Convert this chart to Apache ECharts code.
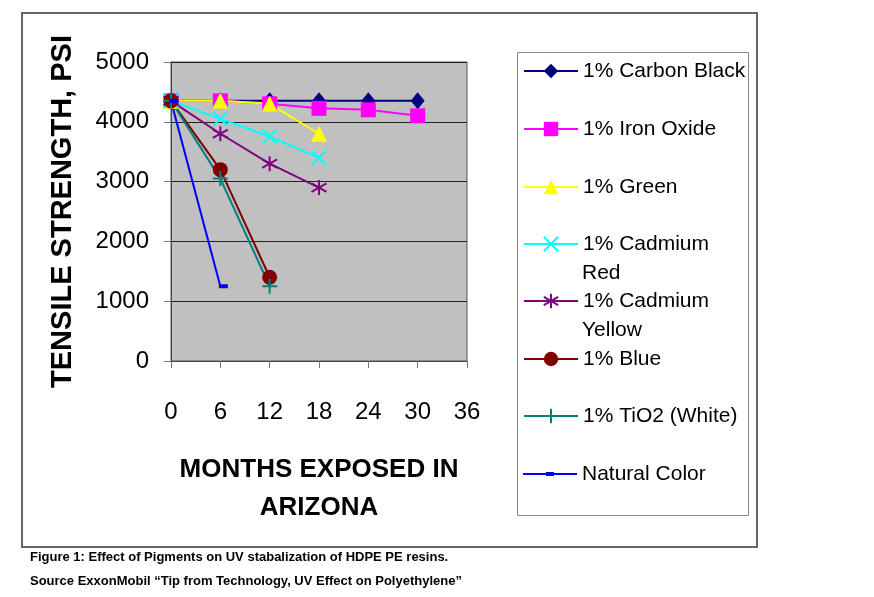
<!DOCTYPE html>
<html>
<head>
<meta charset="utf-8">
<script src="https://cdn.jsdelivr.net/npm/echarts@6/dist/echarts.min.js"></script>
<style>
  html, body { margin: 0; padding: 0; background: #fff; }
  #chart { width: 874px; height: 597px; }
</style>
</head>
<body>
<div id="chart"></div>
<script>
// months exposed
const months = [0, 6, 12, 18, 24, 30];
const xTicks = [0, 6, 12, 18, 24, 30, 36];

// tensile strength, psi
const carbonBlack = [4350, 4350, 4350, 4350, 4350, 4350];
const ironOxide = [4350, 4350, 4300, 4225, 4200, 4100];
const green = [4350, 4350, 4300, 3800];
const cadmiumRed = [4350, 4050, 3750, 3400];
const cadmiumYellow = [4350, 3800, 3300, 2900];
const blue = [4350, 3200, 1400];
const tio2 = [4350, 3050, 1250];
const naturalColor = [4350, 1250];

const names = [
  "1% Carbon Black",
  "1% Iron Oxide",
  "1% Green",
  "1% Cadmium Red",
  "1% Cadmium Yellow",
  "1% Blue",
  "1% TiO2 (White)",
  "Natural Color",
];
const values = [carbonBlack, ironOxide, green, cadmiumRed, cadmiumYellow, blue, tio2, naturalColor];
const colors = ["#000080", "#FF00FF", "#FFFF00", "#00FFFF", "#800080", "#800000", "#008080", "#0000FF"];
const symbols = [
  "diamond",
  "rect",
  "triangle",
  "path://M0,0L10,10M10,0L0,10",
  "path://M5,0L5,10M0,2.2L10,7.8M0,7.8L10,2.2",
  "circle",
  "path://M5,0L5,10M0,5L10,5",
  "rect",
];
const symbolSizes = [[14, 17], 15, [16, 16], 14, 15, 15, 15, [9, 4]];
const stroked = [false, false, false, true, true, false, true, false];

// legend row centers (first text line)
const legendRows = [71, 129, 187, 244, 301, 359, 416, 474];

const font = "'Liberation Sans', Arial, sans-serif";

const myChart = echarts.init(document.getElementById("chart"));

const series = names.map((name, i) => ({
  name: name,
  type: "line",
  data: values[i].map((v, j) => [months[j], v]),
  symbol: symbols[i],
  symbolSize: symbolSizes[i],
  symbolOffset: i === 7 ? [3, 0] : [0, 0],
  lineStyle: { color: colors[i], width: 2 },
  itemStyle: stroked[i]
    ? { color: colors[i], borderColor: colors[i], borderWidth: 2 }
    : { color: colors[i] },
  emphasis: { disabled: true },
  animation: false,
}));

const legends = names.map((name, i) => ({
  orient: "vertical",
  left: 523,
  top: legendRows[i] - 14,
  padding: 0,
  itemWidth: 54,
  itemHeight: 18,
  selectedMode: false,
  data: [
    i === 7
      ? { name: name, icon: "path://M0,4L54,4L54,6L0,6ZM23,3L31,3L31,7L23,7Z" }
      : { name: name },
  ],
  // second word of the Cadmium entries goes on its own line (drawn below)
  formatter: (n) => n.replace(/ (Red|Yellow)$/, ""),
  textStyle: { fontFamily: font, fontSize: 21, color: "#000", lineHeight: 28 },
}));

const option = {
  animation: false,
  grid: {
    left: 171,
    top: 62,
    right: 407,
    bottom: 236,
    show: true,
    backgroundColor: "#C0C0C0",
    borderColor: "#555",
    borderWidth: 1,
  },
  xAxis: {
    type: "value",
    min: xTicks[0],
    max: xTicks[xTicks.length - 1],
    interval: 6,
    name: "MONTHS EXPOSED IN\nARIZONA",
    nameLocation: "middle",
    nameGap: 90,
    nameTextStyle: { fontFamily: font, fontSize: 26, fontWeight: "bold", color: "#000", lineHeight: 38 },
    axisLine: { show: true, lineStyle: { color: "#444", width: 1 } },
    axisTick: { show: true, length: 7, lineStyle: { color: "#777" } },
    axisLabel: { fontFamily: font, fontSize: 24, color: "#000", margin: 39 },
    splitLine: { show: false },
  },
  yAxis: {
    type: "value",
    min: 0,
    max: 5000,
    interval: 1000,
    name: "TENSILE STRENGTH, PSI",
    nameLocation: "middle",
    nameGap: 94,
    nameTextStyle: { fontFamily: font, fontSize: 29, fontWeight: "bold", color: "#000" },
    axisLine: { show: true, lineStyle: { color: "#444", width: 1 } },
    axisTick: { show: true, length: 7, lineStyle: { color: "#777" } },
    axisLabel: {
      fontFamily: font,
      fontSize: 24,
      color: "#000",
      margin: 22,
      formatter: (v) => String(v),
    },
    splitLine: { show: true, lineStyle: { color: "#222", width: 1 } },
  },
  legend: legends,
  tooltip: { show: false },
  graphic: [
    {
      // outer frame
      type: "rect",
      shape: { x: 22, y: 13, width: 735, height: 534 },
      style: { fill: "none", stroke: "#666", lineWidth: 2 },
      silent: true,
    },
    {
      // legend box
      type: "rect",
      shape: { x: 517.5, y: 52.5, width: 231, height: 463 },
      style: { fill: "none", stroke: "#888", lineWidth: 1 },
      silent: true,
    },
    {
      type: "text",
      x: 582,
      y: legendRows[3] + 29,
      style: { text: "Red", font: "21px " + font, fill: "#000", verticalAlign: "middle" },
    },
    {
      type: "text",
      x: 582,
      y: legendRows[4] + 29,
      style: { text: "Yellow", font: "21px " + font, fill: "#000", verticalAlign: "middle" },
    },
    {
      type: "text",
      left: 30,
      top: 551,
      style: {
        text: "Figure 1: Effect of Pigments on UV stabalization of HDPE PE resins.",
        font: "bold 13px " + font,
        fill: "#000",
      },
    },
    {
      type: "text",
      left: 30,
      top: 575,
      style: {
        text: "Source ExxonMobil \u201cTip from Technology, UV Effect on Polyethylene\u201d",
        font: "bold 13px " + font,
        fill: "#000",
      },
    },
  ],
  series: series,
};

myChart.setOption(option);
</script>
</body>
</html>
